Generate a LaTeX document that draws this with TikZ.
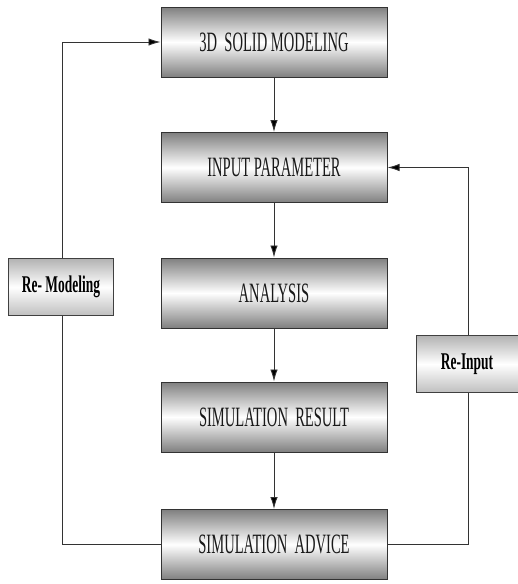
\documentclass[tikz,border=0pt]{standalone}
\usepackage{fontspec}
\setmainfont{Liberation Serif}
\newfontfamily\condfont[FakeStretch=0.52]{Liberation Serif}
\newfontfamily\condbold[FakeStretch=0.56]{Liberation Serif Bold}
\usetikzlibrary{arrows.meta}
\begin{document}
\begin{tikzpicture}[x=1pt,y=-1pt,
  mainbox/.style={draw=black!80, line width=1pt, minimum width=226pt, minimum height=70pt,
    top color=black!50, bottom color=black!50, middle color=white, inner sep=0pt,
    font=\condfont\fontsize{28}{28}\selectfont, text=black!90},
  sidebox/.style={draw=black!75, line width=0.9pt, minimum height=57pt, inner sep=0pt,
    top color=black!30, bottom color=black!25, middle color=white,
    font=\condbold\fontsize{24}{24}\selectfont, text=black},
  conn/.style={draw=black!80, line width=0.9pt},
  arr/.style={conn, -{Latex[length=12pt,width=7.5pt,fill=black]}}]
\useasboundingbox (0,0) rectangle (518,584);
\node[mainbox] (b1) at (274,42) {3D\ \ SOLID MODELING};
\node[mainbox] (b2) at (274,167.5) {INPUT PARAMETER};
\node[mainbox] (b3) at (274,293) {ANALYSIS};
\node[mainbox] (b4) at (274,417) {SIMULATION\ \ RESULT};
\node[mainbox] (b5) at (274,544.5) {SIMULATION\ \ ADVICE};
\node[sidebox, minimum width=105pt] (rm) at (61,287) {Re- Modeling};
\node[sidebox, minimum width=102pt] (ri) at (467,364) {Re-Input};
\coordinate (l1) at (62,544.5);
\coordinate (l2) at (62,42);
\coordinate (r1) at (468,544.5);
\coordinate (r2) at (468,167.5);
\draw[arr] (b1) -- (b2);
\draw[arr] (b2) -- (b3);
\draw[arr] (b3) -- (b4);
\draw[arr] (b4) -- (b5);
\draw[conn] (b5.west) -- (l1) -- (l1 |- rm.south);
\draw[arr] (l2 |- rm.north) -- (l2) -- (b1.west);
\draw[conn] (b5.east) -- (r1) -- (r1 |- ri.south);
\draw[arr] (r2 |- ri.north) -- (r2) -- (b2.east);
\end{tikzpicture}
\end{document}
